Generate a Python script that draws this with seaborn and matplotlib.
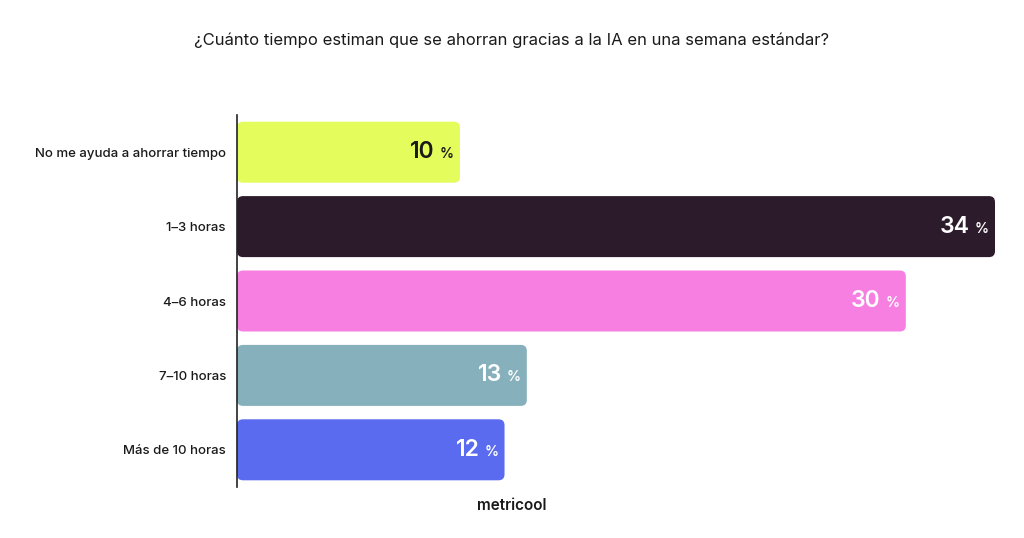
import matplotlib
matplotlib.use("Agg")
import matplotlib.pyplot as plt
import seaborn as sns
import pandas as pd
from matplotlib.patches import FancyBboxPatch

categories = ["No me ayuda a ahorrar tiempo", "1–3 horas", "4–6 horas", "7–10 horas", "Más de 10 horas"]
values = [10, 34, 30, 13, 12]
colors = ["#E4FC5C", "#2C1B2A", "#F77FE1", "#86B0BB", "#5A6BF0"]
text_colors = ["#1a1a1a", "white", "white", "white", "white"]
title = "¿Cuánto tiempo estiman que se ahorran gracias a la IA en una semana estándar?"

sns.set_theme(style="white")
plt.rcParams['font.family'] = ['Inter', 'DejaVu Sans']

df = pd.DataFrame({"cat": categories, "val": values})

fig = plt.figure(figsize=(10.24, 5.38), dpi=100)
ax = fig.add_axes([237/1024, 1-487/538, (995-237)/1024, (487-115)/538])

sns.barplot(data=df, y="cat", x="val", hue="cat", palette=colors, legend=False,
            orient="h", width=0.82, ax=ax, saturation=1)

ax.set_xlim(0, 34)
ax.set_ylim(4.5, -0.5)

# replace rectangles with rounded versions based on library geometry
xpp = 34 / (995-237)
ypp = 5 / (487-115)
rects = list(ax.patches)
for r in rects:
    x, y, w, h = r.get_x(), r.get_y(), r.get_width(), r.get_height()
    fc = r.get_facecolor()
    r.remove()
    p = FancyBboxPatch((x, y), w, h, boxstyle=f"round,pad=0,rounding_size={6*xpp}",
                       mutation_aspect=ypp/xpp, facecolor=fc, edgecolor="none", zorder=2)
    ax.add_patch(p)

for i, (v, tc) in enumerate(zip(values, text_colors)):
    ax.annotate("%", xy=(v, i), xytext=(-4.5, -1.5), textcoords="offset points",
                ha="right", va="center", fontsize=10, fontweight="semibold", color=tc, zorder=3)
    ax.annotate(str(v), xy=(v, i), xytext=(-18, 0), textcoords="offset points",
                ha="right", va="center", fontsize=16.5, fontweight="semibold", color=tc, zorder=3)

ax.set_xlabel("")
ax.set_ylabel("")
ax.set_xticks([])
ax.tick_params(axis="y", length=0, pad=8, labelsize=9.5, labelcolor="#1a1a1a")
for lab in ax.get_yticklabels():
    lab.set_fontweight("medium")
for s in ["top", "right", "bottom"]:
    ax.spines[s].set_visible(False)
ax.spines["left"].set_color("#222222")
ax.spines["left"].set_linewidth(1.2)

fig.text(512/1024, 1-40/538, title, ha="center", va="center", fontsize=12, color="#1a1a1a")
fig.text(512/1024, 1-506/538, "metricool", ha="center", va="center", fontsize=11,
         fontweight="semibold", color="#1a1a1a")

fig.savefig("out.png", dpi=100, facecolor="white")
